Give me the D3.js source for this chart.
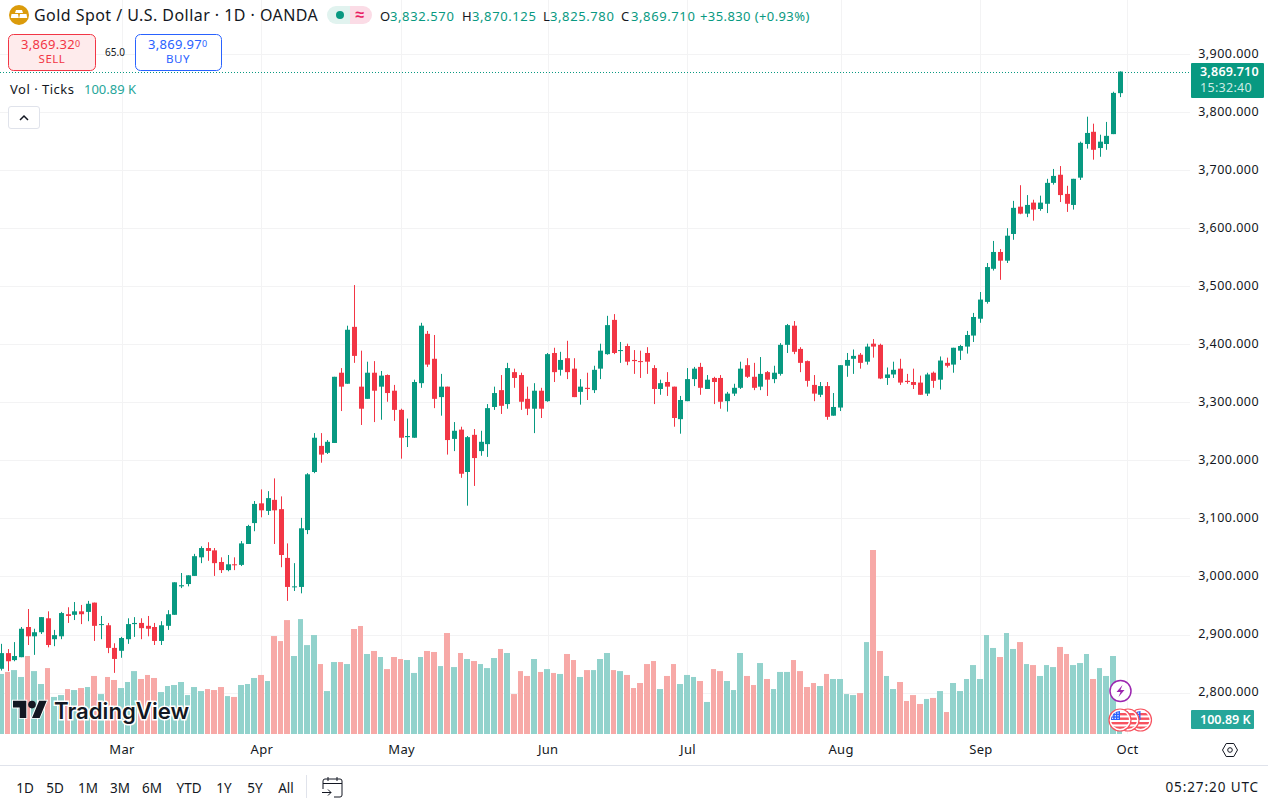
<!DOCTYPE html>
<html>
  <head>
    <title>Gold Spot / U.S. Dollar</title>
    <style>
      html, body { margin: 0; padding: 0; background: #fff; overflow: hidden; }
      text { font-family: "Noto Sans", sans-serif; fill: #131722; }
    </style>
    <script src="https://d3js.org/d3.v7.min.js"></script>
  </head>
  <body>
    <div id="chart"></div>

    <script>
      // daily candles
      const opens = [
        2841,2868,2856,2861,2913,2897,2904,2928,2892,2897,
        2935,2934,2940,2939,2955,2917,2916,2877,2872,2892,
        2918,2920,2915,2913,2889,2915,2934,2983,2987,3001,
        3033,3049,3045,3025,3011,3021,3020,3056,3092,3126,
        3113,3132,3116,3032,2982,2982,3080,3180,3225,3213,
        3230,3351,3332,3430,3327,3306,3351,3327,3347,3320,
        3287,3240,3239,3333,3418,3375,3309,3327,3237,3253,
        3180,3244,3216,3228,3292,3321,3297,3352,3347,3306,
        3289,3320,3302,3385,3356,3376,3358,3318,3325,3321,
        3358,3383,3442,3389,3397,3373,3371,3385,3359,3323,
        3335,3327,3271,3302,3340,3361,3323,3342,3342,3302,
        3315,3325,3364,3344,3327,3352,3340,3349,3399,3432,
        3392,3371,3330,3313,3328,3277,3291,3363,3375,3382,
        3370,3401,3399,3342,3348,3358,3337,3335,3334,3315,
        3351,3339,3368,3365,3389,3396,3415,3444,3473,3530,
        3559,3544,3590,3637,3625,3644,3633,3642,3678,3692,
        3659,3640,3687,3745,3766,3738,3745,3762,3832.57
      ];
      const highs = [
        2884,2875,2887,2913,2944,2910,2930,2940,2908,2939,
        2947,2956,2951,2958,2955,2932,2920,2885,2896,2928,
        2930,2928,2932,2920,2923,2942,2990,3006,3002,3039,
        3052,3059,3049,3033,3037,3033,3061,3089,3130,3150,
        3147,3169,3138,3057,3023,3101,3178,3247,3247,3235,
        3344,3359,3432,3502,3389,3370,3371,3354,3348,3330,
        3289,3272,3339,3437,3423,3416,3349,3327,3266,3258,
        3242,3254,3251,3297,3327,3347,3368,3358,3351,3327,
        3333,3325,3385,3394,3387,3406,3376,3340,3351,3363,
        3401,3449,3452,3404,3401,3390,3389,3395,3364,3339,
        3352,3327,3311,3359,3361,3368,3347,3344,3347,3318,
        3332,3370,3376,3368,3378,3354,3363,3402,3435,3440,
        3395,3372,3347,3335,3335,3316,3364,3385,3391,3385,
        3401,3409,3401,3360,3370,3375,3349,3358,3346,3351,
        3353,3379,3377,3394,3399,3423,3454,3490,3540,3578,
        3564,3600,3647,3674,3657,3649,3656,3685,3702,3707,
        3673,3685,3749,3792,3780,3761,3783,3835,3870.125
      ];
      const lows = [
        2838,2837,2854,2861,2882,2865,2901,2878,2880,2892,
        2920,2925,2918,2923,2889,2892,2868,2834,2860,2884,
        2896,2892,2897,2882,2882,2908,2934,2980,2983,3001,
        3023,3027,3001,3006,3009,3011,3018,3056,3078,3102,
        3106,3056,3016,2958,2975,2971,3073,3178,3196,3211,
        3230,3285,3332,3368,3261,3306,3266,3270,3301,3268,
        3203,3223,3239,3325,3361,3290,3277,3210,3216,3170,
        3122,3156,3208,3206,3287,3280,3289,3325,3287,3278,
        3247,3273,3301,3335,3346,3340,3309,3296,3304,3316,
        3340,3382,3383,3368,3364,3349,3342,3349,3297,3313,
        3311,3258,3246,3302,3328,3313,3323,3297,3289,3284,
        3311,3323,3342,3321,3321,3311,3333,3346,3385,3383,
        3352,3327,3302,3309,3270,3277,3285,3344,3349,3358,
        3365,3377,3340,3330,3342,3330,3332,3323,3313,3311,
        3325,3322,3360,3351,3373,3384,3404,3437,3470,3527,
        3511,3540,3580,3624,3619,3613,3630,3626,3675,3645,
        3628,3632,3683,3737,3718,3723,3735,3762,3825.78
      ];
      const closes = [
        2868,2854,2863,2910,2897,2904,2930,2882,2899,2937,
        2932,2940,2935,2953,2915,2918,2877,2858,2894,2918,
        2920,2911,2910,2889,2916,2935,2990,2985,3002,3035,
        3049,3044,3023,3011,3021,3020,3057,3087,3125,3114,
        3135,3114,3037,2982,2983,3083,3176,3239,3210,3232,
        3344,3327,3425,3380,3289,3351,3320,3346,3316,3287,
        3239,3242,3335,3432,3365,3306,3327,3235,3251,3177,
        3240,3204,3232,3290,3316,3294,3359,3342,3301,3289,
        3320,3289,3383,3352,3373,3352,3309,3327,3323,3356,
        3389,3433,3385,3390,3370,3371,3370,3370,3323,3333,
        3327,3273,3304,3340,3358,3325,3339,3335,3301,3315,
        3325,3358,3344,3325,3349,3339,3351,3399,3433,3387,
        3368,3337,3315,3328,3275,3292,3364,3373,3380,3368,
        3396,3396,3341,3348,3356,3334,3335,3330,3313,3348,
        3337,3372,3363,3394,3397,3416,3447,3477,3533,3559,
        3544,3587,3635,3625,3640,3632,3644,3678,3690,3657,
        3642,3685,3747,3764,3735,3749,3759,3833,3869.71
      ];
      // tick volume, in thousands
      const volumes = [
        418,432,445,397,543,438,348,459,258,271,
        313,306,320,327,404,278,397,376,320,362,
        438,383,411,390,292,334,341,362,271,327,
        299,313,306,327,264,258,341,348,390,411,
        369,682,647,793,543,800,619,689,487,299,
        501,501,487,731,752,557,578,536,452,536,
        522,515,425,536,578,571,473,703,466,564,
        522,508,487,459,529,592,564,278,438,404,
        522,432,452,425,418,557,515,397,445,445,
        522,564,445,438,411,320,355,487,508,313,
        404,487,348,411,397,369,223,452,438,369,
        306,564,404,341,494,383,313,432,432,515,
        438,327,355,334,418,383,383,278,271,285,
        640,1281,578,404,313,362,230,271,209,244,
        251,299,153,355,299,383,480,383,689,599,
        536,703,592,640,487,480,404,480,466,606,
        557,480,494,557,383,459,404,543,100.89
      ];

      const priceTicks = [3900,3800,3700,3600,3500,3400,3300,3200,3100,3000,2900,2800];
      const monthLabels = ["Mar","Apr","May","Jun","Jul","Aug","Sep","Oct"];
      const monthBars = [18,39,60,82,103,126,147,169];
      const rangeButtons = ["1D","5D","1M","3M","6M","YTD","1Y","5Y","All"];
      const rangeCenters = [25,55,88,120,152,189,224,255,286];

      const lastClose = 3869.71;
      const green = "#089981", red = "#F23645";
      const volGreen = "#92D2CC", volRed = "#F7A9A7";
      const gridColor = "#F3F3F4";

      const svg = d3.select("#chart").append("svg")
        .attr("width", 1268).attr("height", 803)
        .style("display", "block");

      const x = d3.scaleLinear().domain([0, 168]).range([1.67, 1120.3]);
      const y = d3.scaleLinear().domain([2800, 3900]).range([692.6, 54]);
      const yVol = d3.scaleLinear().domain([0, 1281]).range([734, 550]);

      const bars = d3.range(opens.length).map(i => ({
        i, o: opens[i], h: highs[i], l: lows[i], c: closes[i], v: volumes[i],
        up: closes[i] >= opens[i]
      }));

      svg.append("defs").append("clipPath").attr("id", "plot")
        .append("rect").attr("width", 1190).attr("height", 734);

      // grid
      const grid = svg.append("g");
      grid.selectAll("line.h").data(priceTicks).enter().append("line")
        .attr("x1", 0).attr("x2", 1190)
        .attr("y1", d => Math.round(y(d)) + 0.5).attr("y2", d => Math.round(y(d)) + 0.5)
        .attr("stroke", gridColor);
      grid.selectAll("line.v").data(monthBars).enter().append("line")
        .attr("y1", 0).attr("y2", 734)
        .attr("x1", d => Math.round(x(d)) + 0.5).attr("x2", d => Math.round(x(d)) + 0.5)
        .attr("stroke", gridColor);

      const plot = svg.append("g").attr("clip-path", "url(#plot)");

      // volume bars, always a 1px gap to the next one
      const volLeft = i => Math.floor(x(i) - 3);
      plot.selectAll("rect.vol").data(bars).enter().append("rect")
        .attr("x", d => volLeft(d.i))
        .attr("width", d => volLeft(d.i + 1) - volLeft(d.i) - 1)
        .attr("y", d => yVol(d.v))
        .attr("height", d => 734 - yVol(d.v))
        .attr("fill", d => d.up ? volGreen : volRed);

      // candles
      const candles = plot.selectAll("g.candle").data(bars).enter().append("g");
      candles.append("rect")
        .attr("x", d => Math.round(x(d.i) - 2.5) + 2)
        .attr("width", 1)
        .attr("y", d => y(d.h))
        .attr("height", d => y(d.l) - y(d.h))
        .attr("fill", d => d.up ? green : red);
      candles.append("rect")
        .attr("x", d => Math.round(x(d.i) - 2.5))
        .attr("width", 5)
        .attr("y", d => y(Math.max(d.o, d.c)))
        .attr("height", d => Math.max(1, Math.abs(y(d.o) - y(d.c))))
        .attr("fill", d => d.up ? green : red);

      // last price line
      svg.append("line")
        .attr("x1", 0).attr("x2", 1190)
        .attr("y1", Math.round(y(lastClose)) + 0.5).attr("y2", Math.round(y(lastClose)) + 0.5)
        .attr("stroke", green).attr("stroke-dasharray", "1 2");

      // price axis
      const yAxis = svg.append("g")
        .attr("transform", "translate(1259,-1)")
        .call(d3.axisLeft(y).tickValues(priceTicks).tickSize(0).tickPadding(0).tickFormat(d3.format(",.3f")));
      yAxis.select(".domain").remove();
      yAxis.selectAll("text").style("font-family", '"Noto Sans", sans-serif').style("font-size", "12.5px").style("letter-spacing", "0.45px").style("fill", "#131722");

      // time axis
      const xAxis = svg.append("g")
        .attr("transform", "translate(0,745)")
        .call(d3.axisBottom(x).tickValues(monthBars).tickSize(0).tickPadding(0).tickFormat((d, i) => monthLabels[i]));
      xAxis.select(".domain").remove();
      xAxis.selectAll("text").style("font-family", '"Noto Sans", sans-serif').style("font-size", "13px").style("letter-spacing", "0.3px").style("fill", "#131722");

      svg.append("line").attr("x1", 0).attr("x2", 1268).attr("y1", 765.5).attr("y2", 765.5).attr("stroke", "#E0E3EB");

      // price and volume tags
      svg.append("rect").attr("x", 1191).attr("y", 63).attr("width", 73).attr("height", 35).attr("rx", 1).attr("fill", green);
      svg.append("text").attr("x", 1200).attr("y", 76).attr("font-size", 12.5).attr("font-weight", 600).attr("letter-spacing", 0.2).style("fill", "#fff").text("3,869.710");
      svg.append("text").attr("x", 1200).attr("y", 92).attr("font-size", 12.5).attr("letter-spacing", 0.3).style("fill", "#CDEBE5").text("15:32:40");
      svg.append("rect").attr("x", 1191).attr("y", 710).attr("width", 63).attr("height", 19).attr("rx", 1).attr("fill", "#26A69A");
      svg.append("text").attr("x", 1200).attr("y", 724).attr("font-size", 12.5).attr("font-weight", 600).style("fill", "#fff").text("100.89 K");

      // settings hexagon
      const gear = svg.append("g").attr("transform", "translate(1230,750)").attr("fill", "none").attr("stroke", "#131722");
      gear.append("path").attr("d", "M-7.5 0L-3.8-6.5H3.8L7.5 0L3.8 6.5H-3.8Z");
      gear.append("circle").attr("r", 2.3);

      // header
      const coin = svg.append("g").attr("transform", "translate(19,15)");
      coin.append("circle").attr("r", 10).attr("fill", "#DB9B0B");
      coin.append("path").attr("d", "M-3-5H3L4-2H-4ZM-7.5-1H-1L-.2 3H-8.2ZM1-1H7.5L8.2 3H.2Z").attr("fill", "#fff");
      svg.append("text").attr("x", 34).attr("y", 21).attr("font-size", 16).attr("letter-spacing", 0.45).text("Gold Spot / U.S. Dollar · 1D · OANDA");

      svg.append("path").attr("d", "M350 6H336a9 9 0 0 0 0 18H350Z").attr("fill", "#E1F3EF");
      svg.append("path").attr("d", "M350 6H363a9 9 0 0 1 0 18H350Z").attr("fill", "#FBDCE6");
      svg.append("circle").attr("cx", 340).attr("cy", 15).attr("r", 4).attr("fill", green);
      svg.append("text").attr("x", 360).attr("y", 20).attr("text-anchor", "middle").attr("font-size", 16).attr("font-weight", 700).style("fill", "#E91E63").text("≈");

      const ohlc = [["O", 380, "3,832.570", 390], ["H", 462, "3,870.125", 472], ["L", 543, "3,825.780", 550], ["C", 621, "3,869.710", 631]];
      ohlc.forEach(r => {
        svg.append("text").attr("x", r[1]).attr("y", 21).attr("font-size", 13).text(r[0]);
        svg.append("text").attr("x", r[3]).attr("y", 21).attr("font-size", 13).attr("letter-spacing", 0.6).style("fill", green).text(r[2]);
      });
      svg.append("text").attr("x", 700).attr("y", 21).attr("font-size", 13).attr("letter-spacing", 0.4).style("fill", green).text("+35.830 (+0.93%)");

      // sell / buy
      svg.append("rect").attr("x", 8.5).attr("y", 34.5).attr("width", 87).attr("height", 36).attr("rx", 5).attr("fill", "#FEEBEC").attr("stroke", red);
      const sell = svg.append("text").attr("x", 21).attr("y", 49).attr("font-size", 13).attr("letter-spacing", 0.3).style("fill", red);
      sell.append("tspan").text("3,869.32");
      sell.append("tspan").attr("font-size", 9).attr("dy", -2).text("0");
      svg.append("text").attr("x", 52).attr("y", 63).attr("text-anchor", "middle").attr("font-size", 11.5).attr("letter-spacing", 0.5).style("fill", red).text("SELL");
      svg.append("text").attr("x", 115).attr("y", 56).attr("text-anchor", "middle").attr("font-size", 10).text("65.0");
      svg.append("rect").attr("x", 135.5).attr("y", 34.5).attr("width", 86).attr("height", 36).attr("rx", 5).attr("fill", "#fff").attr("stroke", "#2962FF");
      const buy = svg.append("text").attr("x", 148).attr("y", 49).attr("font-size", 13).attr("letter-spacing", 0.3).style("fill", "#2962FF");
      buy.append("tspan").text("3,869.97");
      buy.append("tspan").attr("font-size", 9).attr("dy", -2).text("0");
      svg.append("text").attr("x", 178).attr("y", 63).attr("text-anchor", "middle").attr("font-size", 11.5).attr("letter-spacing", 0.5).style("fill", "#2962FF").text("BUY");

      svg.append("text").attr("x", 10).attr("y", 94).attr("font-size", 13).attr("letter-spacing", 0.5).text("Vol · Ticks");
      svg.append("text").attr("x", 84).attr("y", 94).attr("font-size", 13).style("fill", "#26A69A").text("100.89 K");
      svg.append("rect").attr("x", 8.5).attr("y", 106.5).attr("width", 31).attr("height", 22).attr("rx", 2.5).attr("fill", "#fff").attr("stroke", "#E0E3EB");
      svg.append("path").attr("d", "M20 120L24 116L28 120").attr("fill", "none").attr("stroke", "#131722").attr("stroke-width", 1.5);

      // logo
      const logo = svg.append("g");
      logo.append("path")
        .attr("transform", "translate(13,697) scale(.95)")
        .attr("d", "M14 22H7V11H0V4h14v18zM28 22h-8l7.5-18h8L28 22z")
        .attr("fill", "#131722").attr("stroke", "#fff").attr("stroke-width", 2).attr("paint-order", "stroke");
      logo.append("circle").attr("cx", 32).attr("cy", 704.6).attr("r", 3.8).attr("fill", "#131722");
      logo.append("text").attr("x", 54).attr("y", 719).attr("font-size", 22.2).attr("font-weight", 600)
        .style("font-family", "Inter, sans-serif")
        .attr("stroke", "#fff").attr("stroke-width", 3).attr("paint-order", "stroke")
        .text("TradingView");

      // economic event markers
      const bolt = svg.append("g").attr("transform", "translate(1120.5,691)");
      bolt.append("circle").attr("r", 10.5).attr("fill", "#fff").attr("stroke", "#9C27B0").attr("stroke-width", 1.5);
      bolt.append("path").attr("d", "M2-6L-4 1H0L-2 6L4-1H0Z").attr("fill", "#9C27B0");

      const defs = svg.select("defs");
      defs.append("clipPath").attr("id", "flagClip").append("circle").attr("r", 9);
      [1140.5, 1128, 1120].forEach(cx => {
        const f = svg.append("g").attr("transform", `translate(${cx},720)`);
        f.append("circle").attr("r", 11).attr("fill", "#fff").attr("stroke", "#F7525F").attr("stroke-width", 1.2);
        const inner = f.append("g").attr("clip-path", "url(#flagClip)");
        inner.append("rect").attr("x", -10).attr("y", -10).attr("width", 20).attr("height", 20).attr("fill", "#fff");
        [-7, -2.5, 2, 6.5].forEach(sy => {
          inner.append("rect").attr("x", -10).attr("y", sy).attr("width", 20).attr("height", 2.4).attr("fill", "#F7525F");
        });
        inner.append("rect").attr("x", -10).attr("y", -10).attr("width", 10).attr("height", 10).attr("fill", "#2962FF");
        inner.append("g").selectAll("rect").data(d3.range(9)).enter().append("rect")
          .attr("x", d => -8 + (d % 3) * 2.7).attr("y", d => -7.5 + Math.floor(d / 3) * 2.6)
          .attr("width", 1.2).attr("height", 1.2).attr("fill", "#fff");
      });

      // bottom toolbar
      svg.selectAll("text.range").data(rangeButtons).enter().append("text")
        .attr("x", (d, i) => rangeCenters[i]).attr("y", 793)
        .attr("text-anchor", "middle").attr("font-size", 13.5).text(d => d);
      svg.append("line").attr("x1", 306.5).attr("x2", 306.5).attr("y1", 775).attr("y2", 798).attr("stroke", "#E0E3EB");
      const cal = svg.append("g").attr("fill", "none").attr("stroke", "#131722").attr("stroke-width", 1);
      cal.append("path").attr("d", "M323 789V781a2 2 0 0 1 2-2H340a2 2 0 0 1 2 2V795a2 2 0 0 1-2 2H334");
      cal.append("path").attr("d", "M323 783.5H342M328 777V781M337 777V781");
      cal.append("path").attr("d", "M322 792.5H331M328 789.5L331 792.5L328 795.5");
      svg.append("text").attr("x", 1259).attr("y", 792).attr("text-anchor", "end").attr("font-size", 13.5).attr("letter-spacing", 0.9).text("05:27:20 UTC");
    </script>
  </body>
</html>
